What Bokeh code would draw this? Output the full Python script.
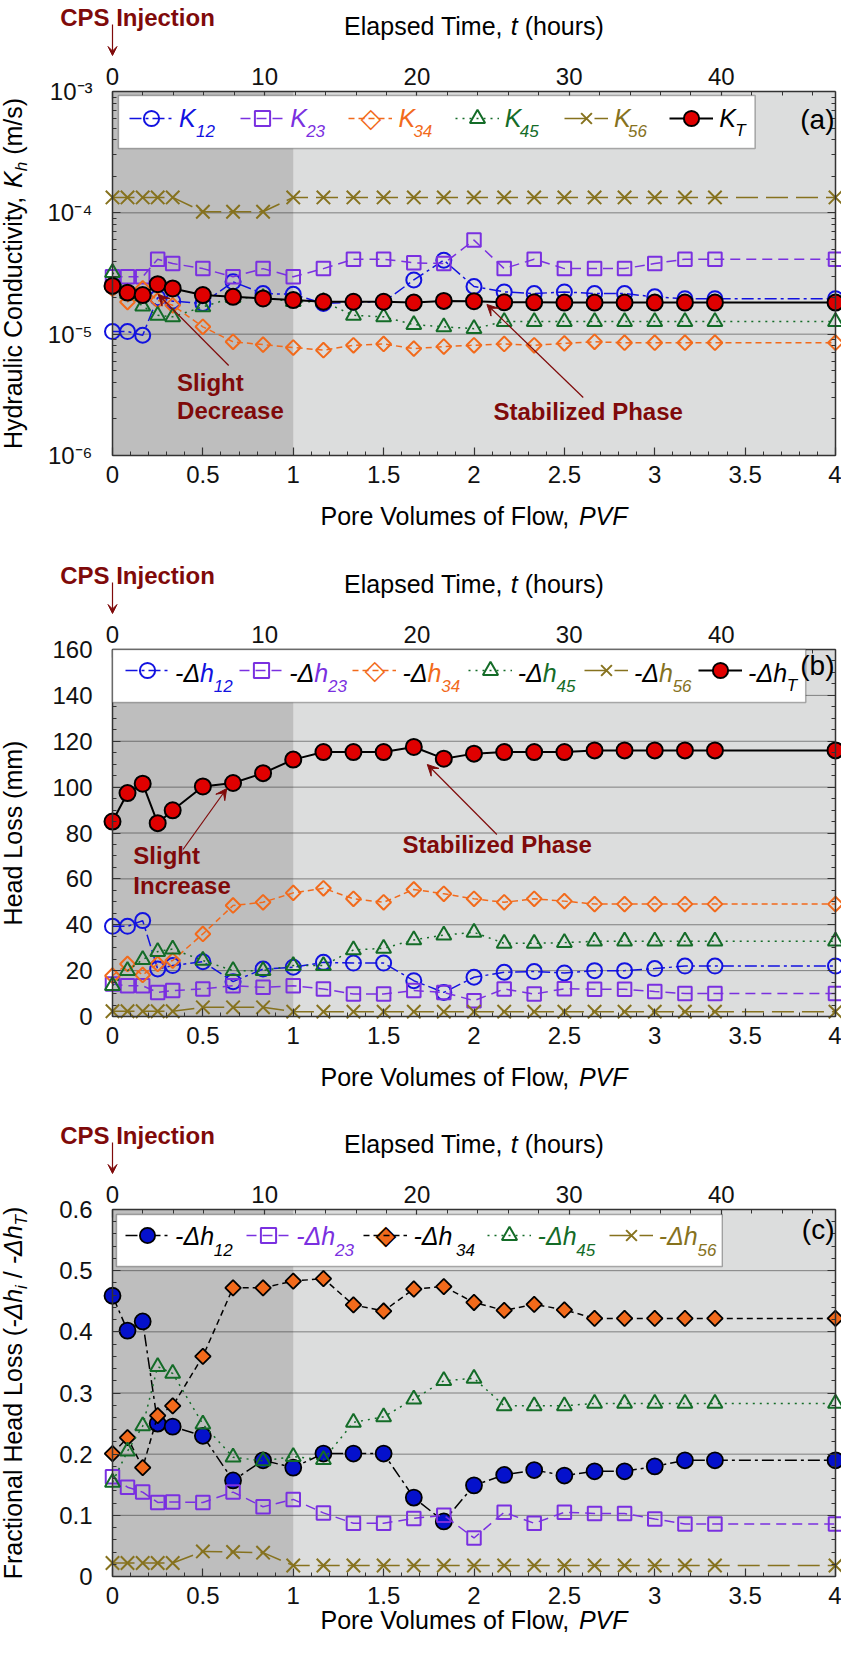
import numpy as np
from bokeh.plotting import figure
from bokeh.models import (Range1d, LinearAxis, LogAxis, FixedTicker, Label, Arrow, VeeHead,
                          BoxAnnotation, Legend, LegendItem, CustomJSTickFormatter)
from bokeh.layouts import column
from bokeh.embed import file_html
from bokeh.resources import INLINE

# ---------------- data ----------------
pvf = [0.0, 0.083, 0.167, 0.25, 0.333, 0.5, 0.667, 0.833, 1.0, 1.167, 1.333, 1.5,
       1.667, 1.833, 2.0, 2.167, 2.333, 2.5, 2.667, 2.833, 3.0, 3.167, 3.333, 4.0]
pvf_max = 4.0
hours_at_4pvf = 47.5
pvf_phase_end = 1.0

# (a) hydraulic conductivity, in units of 1e-5 m/s
K12_e5 = [1.05, 1.05, 0.98, 2.0, 1.87, 1.79, 2.7, 2.16, 2.13, 1.79, 1.84, 1.84,
          2.8, 4.07, 2.47, 2.23, 2.16, 2.23, 2.16, 2.16, 2.03, 1.96, 1.96, 1.96]
K23_e5 = [2.97, 2.97, 2.97, 4.15, 3.82, 3.47, 2.97, 3.47, 2.97, 3.47, 4.15, 4.15,
          3.87, 3.82, 5.96, 3.47, 4.15, 3.47, 3.47, 3.47, 3.82, 4.15, 4.15, 4.15]
K34_e5 = [2.37, 1.84, 2.38, 1.9, 1.73, 1.15, 0.865, 0.82, 0.776, 0.738, 0.81, 0.83,
          0.76, 0.79, 0.81, 0.83, 0.81, 0.84, 0.865, 0.85, 0.85, 0.85, 0.85, 0.85]
K45_e5 = [3.22, 2.16, 1.7, 1.43, 1.39, 1.68, 2.0, 2.0, 1.85, 1.85, 1.43, 1.39,
          1.2, 1.15, 1.11, 1.27, 1.27, 1.27, 1.27, 1.27, 1.27, 1.27, 1.27, 1.27]
K56_e5 = [13.4, 13.4, 13.4, 13.4, 13.4, 10.2, 10.2, 10.2, 13.4, 13.4, 13.4, 13.4,
          13.4, 13.4, 13.4, 13.4, 13.4, 13.4, 13.4, 13.4, 13.4, 13.4, 13.4, 13.4]
KT_e5 = [2.5, 2.2, 2.1, 2.58, 2.38, 2.1, 2.03, 1.97, 1.91, 1.85, 1.85, 1.85,
         1.82, 1.88, 1.87, 1.83, 1.83, 1.82, 1.82, 1.82, 1.82, 1.82, 1.82, 1.82]

# (b) head loss, mm
h12 = [39.3, 39.3, 41.8, 20.7, 22.2, 23.9, 15.2, 20.7, 21.5, 23.6, 23.3, 23.3,
       15.6, 10.5, 17.1, 19.3, 19.6, 19.0, 20.0, 20.0, 20.9, 22.0, 22.0, 22.0]
h23 = [14.2, 13.4, 13.4, 10.5, 11.3, 12.0, 13.4, 12.7, 13.4, 12.0, 9.8, 9.8,
       11.3, 10.5, 6.9, 12.0, 9.8, 12.1, 11.9, 11.9, 10.9, 10.0, 10.0, 10.0]
h34 = [17.8, 22.9, 18.1, 22.9, 24.4, 36.0, 48.4, 49.8, 53.9, 55.9, 51.3, 49.8,
       55.4, 53.5, 51.3, 49.8, 51.3, 50.3, 49.0, 49.0, 49.0, 49.0, 49.0, 49.0]
h45 = [13.4, 20.0, 24.8, 28.3, 29.4, 24.4, 20.0, 20.0, 22.2, 22.2, 29.0, 29.7,
       33.4, 35.5, 36.7, 31.9, 31.9, 32.2, 32.8, 32.8, 32.8, 32.8, 32.8, 32.8]
h56 = [2.3, 2.3, 2.3, 2.3, 2.3, 4.0, 4.0, 4.0, 2.1, 2.1, 2.1, 2.1,
       2.1, 2.1, 2.1, 2.1, 2.1, 2.1, 2.1, 2.1, 2.1, 2.1, 2.1, 2.1]
hT = [85.0, 97.4, 101.5, 84.3, 89.9, 100.3, 101.8, 106.1, 112.0, 115.3, 115.3, 115.3,
      117.5, 112.4, 114.6, 115.3, 115.3, 115.3, 116.0, 116.0, 116.0, 116.0, 116.0, 116.0]

# (c) fractional head loss
f12 = [0.459, 0.402, 0.417, 0.250, 0.245, 0.230, 0.157, 0.190, 0.178, 0.201, 0.201, 0.201,
       0.129, 0.090, 0.149, 0.166, 0.174, 0.165, 0.172, 0.172, 0.180, 0.190, 0.190, 0.190]
f23 = [0.163, 0.146, 0.138, 0.121, 0.122, 0.121, 0.138, 0.114, 0.126, 0.104, 0.087, 0.087,
       0.095, 0.100, 0.063, 0.105, 0.087, 0.105, 0.103, 0.103, 0.094, 0.086, 0.086, 0.086]
f34 = [0.201, 0.227, 0.178, 0.263, 0.279, 0.360, 0.472, 0.472, 0.483, 0.487, 0.444, 0.434,
       0.470, 0.474, 0.448, 0.435, 0.445, 0.436, 0.422, 0.422, 0.422, 0.422, 0.422, 0.422]
f45 = [0.154, 0.205, 0.246, 0.343, 0.332, 0.249, 0.195, 0.189, 0.196, 0.191, 0.252, 0.261,
       0.290, 0.320, 0.324, 0.279, 0.279, 0.279, 0.283, 0.283, 0.283, 0.283, 0.283, 0.283]
f56 = [0.022, 0.022, 0.022, 0.022, 0.022, 0.041, 0.040, 0.039, 0.018, 0.018, 0.018, 0.018,
       0.018, 0.018, 0.018, 0.018, 0.018, 0.018, 0.018, 0.018, 0.018, 0.018, 0.018, 0.018]

# tick values / labels
x_ticks = [0, 0.5, 1, 1.5, 2, 2.5, 3, 3.5, 4]
x_tick_labels = ["0", "0.5", "1", "1.5", "2", "2.5", "3", "3.5", "4"]
t_ticks = [0, 10, 20, 30, 40]
ka_ticks = [1e-6, 1e-5, 1e-4, 1e-3]
ka_tick_labels = ["10\u207b\u2076", "10\u207b\u2075", "10\u207b\u2074", "10\u207b\u00b3"]
hb_ticks = [0, 20, 40, 60, 80, 100, 120, 140, 160]
hb_tick_labels = ["0", "20", "40", "60", "80", "100", "120", "140", "160"]
fc_ticks = [0, 0.1, 0.2, 0.3, 0.4, 0.5, 0.6]
fc_tick_labels = ["0", "0.1", "0.2", "0.3", "0.4", "0.5", "0.6"]

subs = ["12", "23", "34", "45", "56", "T"]

# ---------------- style ----------------
FONT = "Liberation Sans"
DARKRED = "#7F0A0A"
BLUE = "#1212E0"
FBLUE = "#0511CC"
PURPLE = "#7A30E0"
ORANGE = "#F26A1B"
GREEN = "#146C28"
OLIVE = "#86721E"
RED = "#E00000"
LIGHT = "#DCDDDD"
DARK = "#BEBEBE"
AXC = "#333333"

AW = {' ': 278, '(': 333, ')': 333, ',': 278, '-': 333, '.': 278, '/': 278,
      'A': 667, 'C': 722, 'D': 722, 'E': 667, 'F': 611, 'H': 722, 'I': 278, 'K': 667,
      'L': 556, 'P': 667, 'S': 667, 'T': 611, 'V': 667,
      'a': 556, 'b': 556, 'c': 500, 'd': 556, 'e': 556, 'f': 278, 'g': 556, 'h': 556,
      'i': 222, 'j': 222, 'k': 500, 'l': 222, 'm': 833, 'n': 556, 'o': 556, 'p': 556,
      'r': 333, 's': 500, 't': 278, 'u': 556, 'v': 500, 'w': 722, 'y': 500, 'z': 500,
      '\u0394': 668}


def tw(s, size):
    return sum(AW.get(c, 556) for c in s) * size / 1000.0


FIG_W = 841
PL = 112          # plot-area left offset inside the figure
PW = 723.0        # plot-area width
REF_L, REF_W = 121.0, 728.0


def fx(X):
    """reference page x -> plot-relative px"""
    return (X - REF_L) * PW / REF_W


class Panel:
    def __init__(self, p, pbot, ph):
        self.p, self.pbot, self.ph = p, pbot, ph

    def sx(self, v):
        return PL + v

    def sy(self, v):
        return self.pbot + v


def label(P, x, y, s, size=25, color="black", style="normal", align="left", angle=0.0,
          font=FONT):
    P.p.add_layout(Label(x=P.sx(x), y=P.sy(y), x_units="screen", y_units="screen", text=s,
                         text_font=font, text_font_size=f"{size}px", text_color=color,
                         text_font_style=style, text_align=align, text_baseline="middle",
                         angle=angle))


def split_lead(s, size):
    lead = len(s) - len(s.lstrip(" "))
    return s.strip(" "), tw(" " * lead, size)


def hsegs(P, x0, y, segs):
    x = x0
    for s, size, style, color, dy in segs:
        txt, shift = split_lead(s, size)
        if txt:
            label(P, x + shift, y + dy, txt, size, color, style)
        x += tw(s, size)


def vsegs(P, xc, yc, segs):
    total = sum(tw(s[0], s[1]) for s in segs)
    y = yc - total / 2.0
    for s, size, style, color, dx in segs:
        txt, shift = split_lead(s, size)
        if txt:
            label(P, xc + dx, y + shift, txt, size, color, style, angle=np.pi / 2)
        y += tw(s, size)


def arrow(P, x0, y0, x1, y1, size=11, width=1.2):
    P.p.add_layout(Arrow(x_start=P.sx(x0), y_start=P.sy(y0), x_end=P.sx(x1), y_end=P.sy(y1),
                         start_units="screen", end_units="screen",
                         line_color=DARKRED, line_width=width,
                         end=VeeHead(size=size, fill_color=DARKRED, line_color=DARKRED)))


def style_axis(ax, standoff, labels=True):
    ax.major_tick_in = 8
    ax.major_tick_out = 0
    ax.minor_tick_in = 4
    ax.minor_tick_out = 0
    ax.major_tick_line_color = AXC
    ax.minor_tick_line_color = AXC
    ax.major_tick_line_width = 1.2
    ax.minor_tick_line_width = 1.0
    ax.axis_line_color = AXC
    ax.axis_line_width = 1.5
    ax.major_label_text_font = FONT
    ax.major_label_text_font_size = "24px"
    ax.major_label_text_color = "#111111"
    ax.major_label_standoff = standoff
    if not labels:
        ax.formatter = CustomJSTickFormatter(code="return ''")


def make_fig(height, ptop, pbot, ylo, yhi, yticks, yminor, ylabels, log=False):
    ph = height - ptop - pbot
    if log:
        l0, l1 = np.log10(ylo), np.log10(yhi)
        per = (l1 - l0) / ph
        yr = (10 ** (l0 - pbot * per), 10 ** (l1 + ptop * per))
    else:
        per = (yhi - ylo) / ph
        yr = (ylo - pbot * per, yhi + ptop * per)
    xper = pvf_max / PW
    xr = (-PL * xper, pvf_max + (FIG_W - PL - PW) * xper)
    p = figure(width=FIG_W, height=height, x_range=Range1d(*xr), y_range=Range1d(*yr),
               y_axis_type="log" if log else "linear", output_backend="svg",
               toolbar_location=None, min_border=0, min_border_left=0, min_border_right=0,
               min_border_top=0, min_border_bottom=0,
               background_fill_color="white", border_fill_color="white",
               outline_line_color=None)
    p.xgrid.visible = False
    p.ygrid.visible = False

    # plot area backgrounds
    p.add_layout(BoxAnnotation(left=0, right=pvf_max, bottom=ylo, top=yhi, fill_color=LIGHT,
                               fill_alpha=1.0, line_alpha=0, level="image"))
    p.add_layout(BoxAnnotation(left=0, right=pvf_phase_end, bottom=ylo, top=yhi,
                               fill_color=DARK, fill_alpha=1.0, line_alpha=0, level="image"))
    # dotted horizontal grid lines at inner major ticks
    g = [t for t in yticks if ylo < t < yhi]
    p.segment(x0=[0.0] * len(g), x1=[pvf_max] * len(g), y0=g, y1=g, line_color="#222222",
              line_dash="1 1", line_width=1, level="underlay")

    xminor = [i / 10 for i in range(0, 41)]
    xa = p.xaxis[0]
    xa.ticker = FixedTicker(ticks=x_ticks, minor_ticks=xminor)
    xa.major_label_overrides = dict(zip([float(t) for t in x_ticks], x_tick_labels))
    xa.fixed_location = ylo
    xa.bounds = (0, pvf_max)
    style_axis(xa, 10)

    ya = p.yaxis[0]
    ya.ticker = FixedTicker(ticks=yticks, minor_ticks=yminor)
    ya.major_label_overrides = dict(zip([float(t) for t in yticks], ylabels))
    ya.fixed_location = 0
    ya.bounds = (ylo, yhi)
    style_axis(ya, 20)

    hpp = hours_at_4pvf / pvf_max
    p.extra_x_ranges = {"hours": Range1d(xr[0] * hpp, xr[1] * hpp)}
    top = LinearAxis(x_range_name="hours",
                     ticker=FixedTicker(ticks=t_ticks, minor_ticks=list(range(0, 48, 2))))
    top.fixed_location = yhi
    top.bounds = (0, hours_at_4pvf)
    style_axis(top, 7)
    p.add_layout(top, "above")

    right = (LogAxis if log else LinearAxis)(ticker=FixedTicker(ticks=yticks, minor_ticks=yminor))
    right.fixed_location = pvf_max
    right.bounds = (ylo, yhi)
    style_axis(right, 0, labels=False)
    p.add_layout(right, "right")
    return Panel(p, pbot, ph)


def series(P, y, color, marker, dash, size=15, lw=1.5, fill=None, mline=None, lcolor=None,
           angle=0.0, mlw=2.0):
    p = P.p
    lr = p.line(pvf, y, line_color=lcolor or color, line_dash=dash, line_width=lw)
    sr = p.scatter(pvf, y, marker=marker, size=size, angle=angle,
                   line_color=mline or color, line_width=mlw,
                   fill_color=fill, fill_alpha=1.0 if fill else 0.0)
    return [lr, sr]


def legend_glyph(P, rends, gx, gy):
    P.p.add_layout(Legend(items=[LegendItem(label=" ", renderers=rends)],
                          location=(P.sx(gx), P.sy(gy) - 19), orientation="horizontal",
                          glyph_width=44, glyph_height=38, padding=0, margin=0, spacing=0,
                          label_standoff=0, label_width=0, label_height=0,
                          label_text_font_size="1px", border_line_color=None,
                          background_fill_alpha=0.0))


def legend_diamond(P, gx, gy, color, filled):
    # diamond symbol for the legend (rotated-square markers are drawn unrotated in legends)
    cx = gx + 22
    if filled:
        label(P, cx, gy + 1, "\u25c6", 27, color, align="center", font="DejaVu Sans")
        label(P, cx, gy + 1, "\u25c7", 27, "black", align="center", font="DejaVu Sans")
    else:
        label(P, cx, gy + 1, "\u25c7", 27, color, align="center", font="DejaVu Sans")


def legend_box(P, l, r, b, t):
    P.p.add_layout(BoxAnnotation(left=P.sx(l), right=P.sx(r), bottom=P.sy(b), top=P.sy(t),
                                 left_units="screen", right_units="screen",
                                 bottom_units="screen", top_units="screen",
                                 fill_color="white", fill_alpha=1.0,
                                 line_color="black", line_width=1.5))


def common_text(P, xlab_y):
    h = P.ph
    label(P, 25, h + 74, "CPS Injection", 24, DARKRED, "bold", align="center")
    arrow(P, 0, h + 67, 0, h + 36, size=9)
    c = PW / 2.0
    segs = [("Elapsed Time, ", 25, "normal", "black", 0), ("t", 25, "italic", "black", 0),
            (" (hours)", 25, "normal", "black", 0)]
    hsegs(P, c - sum(tw(s[0], s[1]) for s in segs) / 2.0, h + 66, segs)
    segs = [("Pore Volumes of Flow, ", 25, "normal", "black", 0),
            ("PVF", 25, "italic", "black", 0)]
    hsegs(P, c - sum(tw(s[0], s[1]) for s in segs) / 2.0, xlab_y, segs)


# ================= panel (a) =================
K12 = [v * 1e-5 for v in K12_e5]
K23 = [v * 1e-5 for v in K23_e5]
K34 = [v * 1e-5 for v in K34_e5]
K45 = [v * 1e-5 for v in K45_e5]
K56 = [v * 1e-5 for v in K56_e5]
KT = [v * 1e-5 for v in KT_e5]
log_minor = [k * 10.0 ** e for e in (-6, -5, -4) for k in range(2, 10)]
A = make_fig(558, 91, 103, 1e-6, 1e-3, ka_ticks, log_minor, ka_tick_labels, log=True)

ra = [series(A, K12, BLUE, "circle", "12 4 3 4"),
      series(A, K23, PURPLE, "square", "10 6", size=13.5),
      series(A, K34, ORANGE, "square", "6 4", size=10.5, angle=np.pi / 4),
      series(A, K45, GREEN, "triangle", "2 5", size=15),
      series(A, K56, OLIVE, "x", "22 8", size=19),
      series(A, KT, "black", "circle", "solid", size=16, lw=2, fill=RED, mline="black")]

legend_box(A, fx(127), fx(768), 307, 360)
a_text = [188, 300, 409, 516, 626, 732]
a_sub = [205, 316, 424, 531, 640, 748]
a_cols = [BLUE, PURPLE, ORANGE, GREEN, OLIVE, "black"]
for i in range(6):
    gx = fx(a_text[i] - 50)
    if i == 2:
        legend_glyph(A, ra[i][:1], gx, 337)
        legend_diamond(A, gx, 337, ORANGE, False)
    else:
        legend_glyph(A, ra[i], gx, 337)
    label(A, fx(a_text[i]), 338, "K", 25, a_cols[i], "italic")
    label(A, fx(a_sub[i]), 325, subs[i], 17, a_cols[i], "italic")
label(A, PW - 1, 336, "(a)", 28, "black", align="right")

label(A, fx(186), 73, "Slight", 24, DARKRED, "bold")
label(A, fx(186), 45, "Decrease", 24, DARKRED, "bold")
arrow(A, fx(238), 90, fx(167), 161)
label(A, fx(600), 44, "Stabilized Phase", 24, DARKRED, "bold", align="center")
arrow(A, fx(595), 58, fx(498), 151)

vsegs(A, -100, A.ph / 2.0, [("Hydraulic Conductivity, ", 25, "normal", "black", 0),
                            ("K", 25, "italic", "black", 0),
                            ("h", 17, "italic", "black", 9),
                            (" (m/s)", 25, "normal", "black", 0)])
common_text(A, -60)

# ================= panel (b) =================
B = make_fig(560, 91, 102, 0, 160, hb_ticks, list(range(0, 161, 5)), hb_tick_labels)
rb = [series(B, h12, BLUE, "circle", "12 4 3 4"),
      series(B, h23, PURPLE, "square", "10 6", size=13.5),
      series(B, h34, ORANGE, "square", "6 4", size=10.5, angle=np.pi / 4),
      series(B, h45, GREEN, "triangle", "2 5", size=15),
      series(B, h56, OLIVE, "x", "22 8", size=19),
      series(B, hT, "black", "circle", "solid", size=16, lw=2, fill=RED, mline="black")]
legend_box(B, fx(121), fx(819), 314, 367)
b_sub = [223, 338, 452, 568, 685, 800]
for i in range(6):
    t0 = b_sub[i] - 39
    gx = fx(t0 - 50)
    if i == 2:
        legend_glyph(B, rb[i][:1], gx, 346)
        legend_diamond(B, gx, 346, ORANGE, False)
    else:
        legend_glyph(B, rb[i], gx, 346)
    label(B, fx(t0), 344, "-\u0394", 25, "black", "italic")
    label(B, fx(t0) + tw("-\u0394", 25), 344, "h", 25, a_cols[i], "italic")
    label(B, fx(b_sub[i]), 331, subs[i], 17, a_cols[i], "italic")
label(B, PW - 1, 351, "(b)", 28, "black", align="right")

label(B, fx(142), 161, "Slight", 24, DARKRED, "bold")
label(B, fx(142), 131, "Increase", 24, DARKRED, "bold")
arrow(B, fx(192), 167, fx(236), 228)
label(B, fx(413), 172, "Stabilized Phase", 24, DARKRED, "bold")
arrow(B, fx(508), 182, fx(438), 252)

vsegs(B, -100, B.ph / 2.0, [("Head Loss (mm)", 25, "normal", "black", 0)])
common_text(B, -60)

# ================= panel (c) =================
fminor = [i / 50 for i in range(0, 31)]
C = make_fig(514, 91, 56, 0, 0.6, fc_ticks, fminor, fc_tick_labels)
rc = [series(C, f12, "black", "circle", "12 4 3 4", size=16, fill=FBLUE, mline="black",
             mlw=1.8),
      series(C, f23, PURPLE, "square", "10 6", size=13.5),
      series(C, f34, "black", "square", "6 4", size=11, fill=ORANGE, mline="black",
             angle=np.pi / 4, mlw=1.8),
      series(C, f45, GREEN, "triangle", "2 5", size=15),
      series(C, f56, OLIVE, "x", "22 8", size=19)]
legend_box(C, fx(125), fx(735), 310, 362)
c_text = [184, 306, 424, 549, 671]
c_sub = [223, 345, 467, 588, 710]
c_cols = ["black", PURPLE, "black", GREEN, OLIVE]
for i in range(5):
    gx = fx(c_text[i] - 50)
    if i == 2:
        legend_glyph(C, rc[i][:1], gx, 341)
        legend_diamond(C, gx, 341, ORANGE, True)
    else:
        legend_glyph(C, rc[i], gx, 341)
    label(C, fx(c_text[i]), 341, "-\u0394h", 25, c_cols[i], "italic")
    label(C, fx(c_sub[i]), 327, subs[i], 17, c_cols[i], "italic")
label(C, PW - 1, 347, "(c)", 28, "black", align="right")

vsegs(C, -100, C.ph / 2.0, [("Fractional Head Loss (", 25, "normal", "black", 0),
                            ("-\u0394h", 25, "italic", "black", 0),
                            ("i", 17, "italic", "black", 9),
                            (" / ", 25, "normal", "black", 0),
                            ("-\u0394h", 25, "italic", "black", 0),
                            ("T", 17, "italic", "black", 9),
                            (")", 25, "normal", "black", 0)])
common_text(C, -43)

layout = column(A.p, B.p, C.p)
open("out.html", "w").write(file_html(layout, INLINE))
